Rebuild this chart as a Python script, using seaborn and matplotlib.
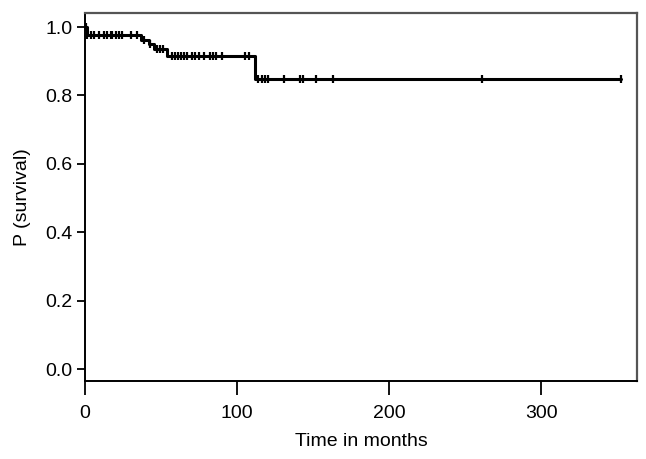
import numpy as np
import pandas as pd
import matplotlib
matplotlib.use("Agg")
import matplotlib.pyplot as plt
import seaborn as sns

# Kaplan-Meier step levels
step_times = [0, 1, 37, 42, 45.5, 54, 111.5]
step_surv = [1.0, 0.978, 0.963, 0.951, 0.936, 0.915, 0.848]
end_time = 352

# censored observations (months)
censor_times = [0.4, 1.3, 4, 6, 9, 12.5, 14.5, 17, 18, 20.5, 22.5, 24.5, 30, 34,
                38.5, 43, 47, 49, 51,
                57, 59, 61, 63, 65, 67, 70, 72, 75, 78, 82, 84, 86, 90, 105, 108,
                113.5, 116, 118, 120, 131, 141, 143, 152, 163, 261, 352]

xticks = [0, 100, 200, 300]
yticks = [0.0, 0.2, 0.4, 0.6, 0.8, 1.0]

sns.set_style("ticks")
plt.rcParams["font.family"] = ["Liberation Sans", "DejaVu Sans"]
plt.rcParams["text.color"] = "black"
plt.rcParams["axes.labelcolor"] = "black"
plt.rcParams["xtick.color"] = "black"
plt.rcParams["ytick.color"] = "black"

curve = pd.DataFrame({"time": step_times + [end_time],
                      "surv": step_surv + [step_surv[-1]]})
idx = np.searchsorted(step_times, censor_times, side="right") - 1
marks = pd.DataFrame({"time": censor_times,
                      "surv": np.array(step_surv)[idx]})

fig = plt.figure(figsize=(6.46, 4.59), dpi=100)
ax = fig.add_axes([0.1316, 0.170, 0.855, 0.8017])

sns.lineplot(data=curve, x="time", y="surv", drawstyle="steps-post",
             color="black", linewidth=2.2, ax=ax)
sns.scatterplot(data=marks, x="time", y="surv", marker="|", s=40,
                color="black", linewidth=1.6, ax=ax, zorder=3)

ax.set_xlim(0, 363)
ax.set_ylim(-0.035, 1.041)
ax.set_xticks(xticks)
ax.set_xticklabels([str(t) for t in xticks])
ax.set_yticks(yticks)
ax.set_yticklabels([f"{t:.1f}" for t in yticks])
ax.set_xlabel("Time in months", fontsize=14, labelpad=8)
ax.set_ylabel("P (survival)", fontsize=14, labelpad=10)
ax.tick_params(axis="x", length=10, width=1.3, labelsize=14, pad=7)
ax.tick_params(axis="y", length=6, width=1.3, labelsize=14, pad=3)

for side in ["left", "bottom"]:
    ax.spines[side].set_color("black")
    ax.spines[side].set_linewidth(1.4)
for side in ["top", "right"]:
    ax.spines[side].set_visible(True)
    ax.spines[side].set_color("#555555")
    ax.spines[side].set_linewidth(1.6)

fig.savefig("out.png", dpi=100)
